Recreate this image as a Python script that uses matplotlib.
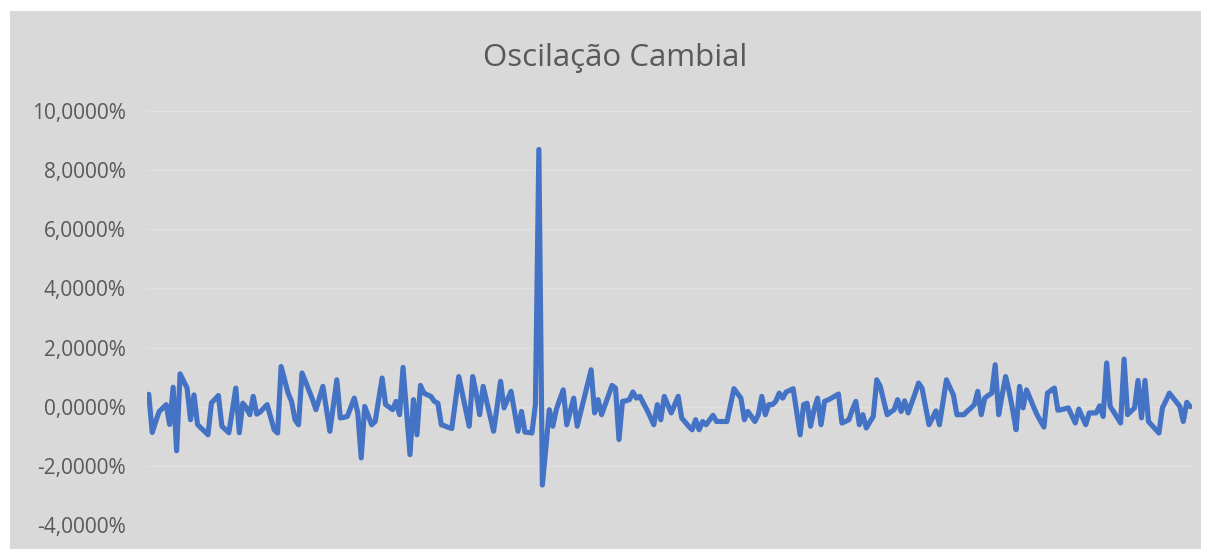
import matplotlib
matplotlib.use("Agg")
import matplotlib.pyplot as plt
from matplotlib.ticker import FuncFormatter, MultipleLocator

title = "Oscilação Cambial"

# Variação cambial por período, em %
oscilacao = [
    0.42, -0.87, -0.5, -0.16, -0.05, 0.07, -0.6, 0.66, -1.49, 1.11,
    0.87, 0.63, -0.44, 0.4, -0.6, -0.72, -0.83, -0.95, 0.13, 0.25,
    0.38, -0.66, -0.77, -0.88, -0.12, 0.63, -0.88, 0.12, -0.03, -0.27,
    0.35, -0.25, -0.18, -0.05, 0.07, -0.35, -0.78, -0.89, 1.36, 0.91,
    0.46, 0.18, -0.44, -0.61, 1.14, 0.85, 0.55, 0.25, -0.1, 0.3,
    0.69, -0.07, -0.83, 0.04, 0.91, -0.38, -0.36, -0.33, -0.02, 0.29,
    -0.2, -1.73, 0.01, -0.3, -0.61, -0.5, 0.23, 0.97, 0.07, -0.01,
    -0.1, 0.18, -0.27, 1.33, -0.15, -1.62, 0.24, -0.95, 0.72, 0.46,
    0.4, 0.35, 0.18, 0.12, -0.61, -0.65, -0.7, -0.74, 0.15, 1.02,
    0.46, -0.1, -0.66, 1.02, 0.46, -0.27, 0.69, 0.19, -0.32, -0.83,
    0.0, 0.86, -0.04, 0.24, 0.52, -0.15, -0.83, -0.16, -0.86, -0.87,
    -0.89, 0.07, 8.7, -2.65, -1.4, -0.1, -0.66, -0.1, 0.25, 0.57,
    -0.61, -0.16, 0.29, -0.66, -0.18, 0.3, 0.78, 1.25, -0.21, 0.24,
    -0.27, 0.06, 0.4, 0.72, 0.63, -1.11, 0.18, 0.2, 0.24, 0.5,
    0.29, 0.35, 0.12, -0.1, -0.35, -0.61, 0.07, -0.44, 0.35, 0.07,
    -0.21, 0.07, 0.35, -0.38, -0.52, -0.66, -0.78, -0.44, -0.78, -0.5,
    -0.61, -0.45, -0.29, -0.5, -0.5, -0.5, -0.5, 0.05, 0.61, 0.45,
    0.29, -0.44, -0.16, -0.33, -0.5, -0.27, 0.35, -0.27, 0.07, 0.07,
    0.18, 0.46, 0.29, 0.5, 0.55, 0.61, -0.17, -0.95, 0.07, 0.12,
    -0.66, -0.1, 0.29, -0.61, 0.18, 0.23, 0.29, 0.36, 0.43, -0.55,
    -0.5, -0.44, -0.1, 0.18, -0.61, -0.27, -0.72, -0.52, -0.33, 0.91,
    0.69, 0.2, -0.27, -0.18, -0.1, 0.24, -0.16, 0.2, -0.21, 0.12,
    0.45, 0.8, 0.63, 0.0, -0.61, -0.38, -0.14, -0.61, 0.15, 0.91,
    0.65, 0.4, -0.27, -0.27, -0.27, -0.15, -0.05, 0.07, 0.52, -0.27,
    0.29, 0.38, 0.46, 1.42, -0.27, 0.4, 1.02, 0.52, -0.1, -0.78,
    0.69, -0.04, 0.57, 0.29, 0.0, -0.27, -0.48, -0.69, 0.46, 0.55,
    0.63, -0.12, -0.1, -0.07, -0.04, -0.3, -0.55, -0.08, -0.35, -0.61,
    -0.21, -0.21, -0.21, 0.03, -0.33, 1.48, 0.01, -0.17, -0.36, -0.55,
    1.61, -0.27, -0.15, -0.04, 0.89, -0.38, 0.89, -0.5, -0.63, -0.76,
    -0.89, -0.04, 0.2, 0.46, 0.31, 0.16, 0.01, -0.5, 0.15, 0.0,
]

y_min, y_max, y_step = -4, 10, 2

BG = "#D9D9D9"
GRID = "#E1E1E1"
TEXT = "#595959"
LINE = "#4472C4"

plt.rcParams["font.family"] = ["Open Sans", "DejaVu Sans"]

W, H = 1210, 549
fig = plt.figure(figsize=(W / 100, H / 100), dpi=100)
fig.patch.set_facecolor("white")

# grey chart-area panel behind the plot
panel = fig.add_axes([10 / W, 0, (1201 - 10) / W, (H - 11) / H], zorder=-1)
panel.set_facecolor(BG)
panel.set_xticks([])
panel.set_yticks([])
for s in panel.spines.values():
    s.set_visible(False)

ax = fig.add_axes([147 / W, 24 / H, (1192 - 147) / W, (525 - 111) / H], zorder=1)
ax.set_facecolor("none")

x = list(range(len(oscilacao)))
ax.plot(x, oscilacao, color=LINE, lw=3.7, solid_joinstyle="round",
        solid_capstyle="round", zorder=3)

ax.set_xlim(-0.5, len(oscilacao) - 0.5)
ax.set_ylim(y_min, y_max)
ax.yaxis.set_major_locator(MultipleLocator(y_step))
ax.yaxis.set_major_formatter(
    FuncFormatter(lambda v, _: f"{v:.4f}%".replace(".", ",")))
ax.grid(axis="y", color=GRID, lw=1.0)
ax.set_axisbelow(True)
ax.set_xticks([])
ax.tick_params(axis="y", length=0, pad=15.5, labelsize=15, labelcolor=TEXT)
for s in ax.spines.values():
    s.set_visible(False)

fig.text(615 / W, 1 - 58 / H, title, ha="center", va="center",
         fontsize=22.5, color=TEXT)

fig.savefig("out.png", dpi=100, facecolor=fig.get_facecolor())
